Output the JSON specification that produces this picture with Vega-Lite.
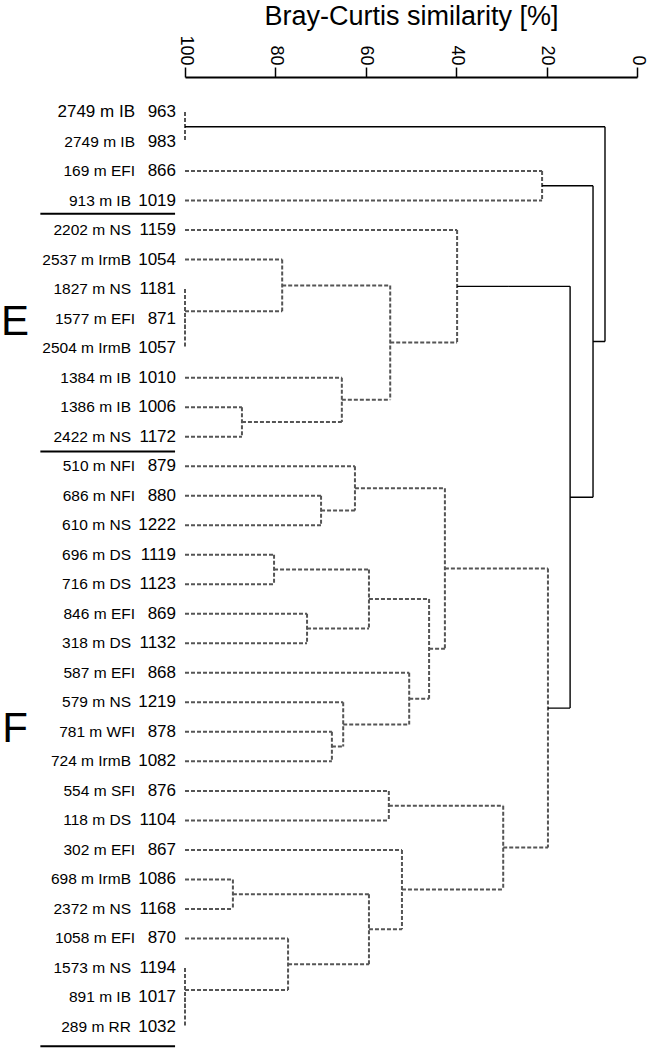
{
  "$schema": "https://vega.github.io/schema/vega-lite/v6.json",
  "autosize": {"type": "none"},
  "padding": {"left": 185, "top": 77, "right": 13, "bottom": 0},
  "width": 452,
  "height": 972,
  "background": "white",
  "config": {"view": {"stroke": null}, "font": "Liberation Sans"},
  "datasets": {
    "segments": [
      {"s1": 100, "s2": 100, "p1": 1, "p2": 2, "simprof": "n.s."},
      {"s1": 100, "s2": 21.0, "p1": 3, "p2": 3, "simprof": "n.s."},
      {"s1": 100, "s2": 21.0, "p1": 4, "p2": 4, "simprof": "n.s."},
      {"s1": 21.0, "s2": 21.0, "p1": 3, "p2": 4, "simprof": "n.s."},
      {"s1": 100, "s2": 100, "p1": 8, "p2": 9, "simprof": "n.s."},
      {"s1": 100, "s2": 100, "p1": 7, "p2": 8.5, "simprof": "n.s."},
      {"s1": 100, "s2": 78.5, "p1": 6, "p2": 6, "simprof": "n.s."},
      {"s1": 100, "s2": 78.5, "p1": 7.75, "p2": 7.75, "simprof": "n.s."},
      {"s1": 78.5, "s2": 78.5, "p1": 6, "p2": 7.75, "simprof": "n.s."},
      {"s1": 100, "s2": 87.4, "p1": 11, "p2": 11, "simprof": "n.s."},
      {"s1": 100, "s2": 87.4, "p1": 12, "p2": 12, "simprof": "n.s."},
      {"s1": 87.4, "s2": 87.4, "p1": 11, "p2": 12, "simprof": "n.s."},
      {"s1": 100, "s2": 65.3, "p1": 10, "p2": 10, "simprof": "n.s."},
      {"s1": 87.4, "s2": 65.3, "p1": 11.5, "p2": 11.5, "simprof": "n.s."},
      {"s1": 65.3, "s2": 65.3, "p1": 10, "p2": 11.5, "simprof": "n.s."},
      {"s1": 78.5, "s2": 54.6, "p1": 6.875, "p2": 6.875, "simprof": "n.s."},
      {"s1": 65.3, "s2": 54.6, "p1": 10.75, "p2": 10.75, "simprof": "n.s."},
      {"s1": 54.6, "s2": 54.6, "p1": 6.875, "p2": 10.75, "simprof": "n.s."},
      {"s1": 100, "s2": 39.8, "p1": 5, "p2": 5, "simprof": "n.s."},
      {"s1": 54.6, "s2": 39.8, "p1": 8.8125, "p2": 8.8125, "simprof": "n.s."},
      {"s1": 39.8, "s2": 39.8, "p1": 5, "p2": 8.8125, "simprof": "n.s."},
      {"s1": 100, "s2": 69.9, "p1": 14, "p2": 14, "simprof": "n.s."},
      {"s1": 100, "s2": 69.9, "p1": 15, "p2": 15, "simprof": "n.s."},
      {"s1": 69.9, "s2": 69.9, "p1": 14, "p2": 15, "simprof": "n.s."},
      {"s1": 100, "s2": 62.4, "p1": 13, "p2": 13, "simprof": "n.s."},
      {"s1": 69.9, "s2": 62.4, "p1": 14.5, "p2": 14.5, "simprof": "n.s."},
      {"s1": 62.4, "s2": 62.4, "p1": 13, "p2": 14.5, "simprof": "n.s."},
      {"s1": 100, "s2": 80.3, "p1": 16, "p2": 16, "simprof": "n.s."},
      {"s1": 100, "s2": 80.3, "p1": 17, "p2": 17, "simprof": "n.s."},
      {"s1": 80.3, "s2": 80.3, "p1": 16, "p2": 17, "simprof": "n.s."},
      {"s1": 100, "s2": 73.0, "p1": 18, "p2": 18, "simprof": "n.s."},
      {"s1": 100, "s2": 73.0, "p1": 19, "p2": 19, "simprof": "n.s."},
      {"s1": 73.0, "s2": 73.0, "p1": 18, "p2": 19, "simprof": "n.s."},
      {"s1": 80.3, "s2": 59.3, "p1": 16.5, "p2": 16.5, "simprof": "n.s."},
      {"s1": 73.0, "s2": 59.3, "p1": 18.5, "p2": 18.5, "simprof": "n.s."},
      {"s1": 59.3, "s2": 59.3, "p1": 16.5, "p2": 18.5, "simprof": "n.s."},
      {"s1": 100, "s2": 67.5, "p1": 22, "p2": 22, "simprof": "n.s."},
      {"s1": 100, "s2": 67.5, "p1": 23, "p2": 23, "simprof": "n.s."},
      {"s1": 67.5, "s2": 67.5, "p1": 22, "p2": 23, "simprof": "n.s."},
      {"s1": 100, "s2": 65.0, "p1": 21, "p2": 21, "simprof": "n.s."},
      {"s1": 67.5, "s2": 65.0, "p1": 22.5, "p2": 22.5, "simprof": "n.s."},
      {"s1": 65.0, "s2": 65.0, "p1": 21, "p2": 22.5, "simprof": "n.s."},
      {"s1": 100, "s2": 50.4, "p1": 20, "p2": 20, "simprof": "n.s."},
      {"s1": 65.0, "s2": 50.4, "p1": 21.75, "p2": 21.75, "simprof": "n.s."},
      {"s1": 50.4, "s2": 50.4, "p1": 20, "p2": 21.75, "simprof": "n.s."},
      {"s1": 59.3, "s2": 46.0, "p1": 17.5, "p2": 17.5, "simprof": "n.s."},
      {"s1": 50.4, "s2": 46.0, "p1": 20.875, "p2": 20.875, "simprof": "n.s."},
      {"s1": 46.0, "s2": 46.0, "p1": 17.5, "p2": 20.875, "simprof": "n.s."},
      {"s1": 62.4, "s2": 42.5, "p1": 13.75, "p2": 13.75, "simprof": "n.s."},
      {"s1": 46.0, "s2": 42.5, "p1": 19.1875, "p2": 19.1875, "simprof": "n.s."},
      {"s1": 42.5, "s2": 42.5, "p1": 13.75, "p2": 19.1875, "simprof": "n.s."},
      {"s1": 100, "s2": 54.9, "p1": 24, "p2": 24, "simprof": "n.s."},
      {"s1": 100, "s2": 54.9, "p1": 25, "p2": 25, "simprof": "n.s."},
      {"s1": 54.9, "s2": 54.9, "p1": 24, "p2": 25, "simprof": "n.s."},
      {"s1": 100, "s2": 89.4, "p1": 27, "p2": 27, "simprof": "n.s."},
      {"s1": 100, "s2": 89.4, "p1": 28, "p2": 28, "simprof": "n.s."},
      {"s1": 89.4, "s2": 89.4, "p1": 27, "p2": 28, "simprof": "n.s."},
      {"s1": 100, "s2": 100, "p1": 31, "p2": 32, "simprof": "n.s."},
      {"s1": 100, "s2": 100, "p1": 30, "p2": 31.5, "simprof": "n.s."},
      {"s1": 100, "s2": 77.2, "p1": 29, "p2": 29, "simprof": "n.s."},
      {"s1": 100, "s2": 77.2, "p1": 30.75, "p2": 30.75, "simprof": "n.s."},
      {"s1": 77.2, "s2": 77.2, "p1": 29, "p2": 30.75, "simprof": "n.s."},
      {"s1": 89.4, "s2": 59.3, "p1": 27.5, "p2": 27.5, "simprof": "n.s."},
      {"s1": 77.2, "s2": 59.3, "p1": 29.875, "p2": 29.875, "simprof": "n.s."},
      {"s1": 59.3, "s2": 59.3, "p1": 27.5, "p2": 29.875, "simprof": "n.s."},
      {"s1": 100, "s2": 52.0, "p1": 26, "p2": 26, "simprof": "n.s."},
      {"s1": 59.3, "s2": 52.0, "p1": 28.6875, "p2": 28.6875, "simprof": "n.s."},
      {"s1": 52.0, "s2": 52.0, "p1": 26, "p2": 28.6875, "simprof": "n.s."},
      {"s1": 54.9, "s2": 29.6, "p1": 24.5, "p2": 24.5, "simprof": "n.s."},
      {"s1": 52.0, "s2": 29.6, "p1": 27.34375, "p2": 27.34375, "simprof": "n.s."},
      {"s1": 29.6, "s2": 29.6, "p1": 24.5, "p2": 27.34375, "simprof": "n.s."},
      {"s1": 42.5, "s2": 19.7, "p1": 16.46875, "p2": 16.46875, "simprof": "n.s."},
      {"s1": 29.6, "s2": 19.7, "p1": 25.921875, "p2": 25.921875, "simprof": "n.s."},
      {"s1": 19.7, "s2": 19.7, "p1": 16.46875, "p2": 25.921875, "simprof": "n.s."},
      {"s1": 39.8, "s2": 14.8, "p1": 6.90625, "p2": 6.90625, "simprof": "sig."},
      {"s1": 19.7, "s2": 14.8, "p1": 21.1953, "p2": 21.1953, "simprof": "sig."},
      {"s1": 14.8, "s2": 14.8, "p1": 6.90625, "p2": 21.1953, "simprof": "sig."},
      {"s1": 21.0, "s2": 9.73, "p1": 3.5, "p2": 3.5, "simprof": "sig."},
      {"s1": 14.8, "s2": 9.73, "p1": 14.0508, "p2": 14.0508, "simprof": "sig."},
      {"s1": 9.73, "s2": 9.73, "p1": 3.5, "p2": 14.0508, "simprof": "sig."},
      {"s1": 100, "s2": 7.08, "p1": 1.5, "p2": 1.5, "simprof": "sig."},
      {"s1": 9.73, "s2": 7.08, "p1": 8.7754, "p2": 8.7754, "simprof": "sig."},
      {"s1": 7.08, "s2": 7.08, "p1": 1.5, "p2": 8.7754, "simprof": "sig."}
    ],
    "leaves": [
      {"leaf": 1, "site": "2749 m IB", "sample": "963"},
      {"leaf": 2, "site": "2749 m IB", "sample": "983"},
      {"leaf": 3, "site": "169 m EFI", "sample": "866"},
      {"leaf": 4, "site": "913 m IB", "sample": "1019"},
      {"leaf": 5, "site": "2202 m NS", "sample": "1159"},
      {"leaf": 6, "site": "2537 m IrmB", "sample": "1054"},
      {"leaf": 7, "site": "1827 m NS", "sample": "1181"},
      {"leaf": 8, "site": "1577 m EFI", "sample": "871"},
      {"leaf": 9, "site": "2504 m IrmB", "sample": "1057"},
      {"leaf": 10, "site": "1384 m IB", "sample": "1010"},
      {"leaf": 11, "site": "1386 m IB", "sample": "1006"},
      {"leaf": 12, "site": "2422 m NS", "sample": "1172"},
      {"leaf": 13, "site": "510 m NFI", "sample": "879"},
      {"leaf": 14, "site": "686 m NFI", "sample": "880"},
      {"leaf": 15, "site": "610 m NS", "sample": "1222"},
      {"leaf": 16, "site": "696 m DS", "sample": "1119"},
      {"leaf": 17, "site": "716 m DS", "sample": "1123"},
      {"leaf": 18, "site": "846 m EFI", "sample": "869"},
      {"leaf": 19, "site": "318 m DS", "sample": "1132"},
      {"leaf": 20, "site": "587 m EFI", "sample": "868"},
      {"leaf": 21, "site": "579 m NS", "sample": "1219"},
      {"leaf": 22, "site": "781 m WFI", "sample": "878"},
      {"leaf": 23, "site": "724 m IrmB", "sample": "1082"},
      {"leaf": 24, "site": "554 m SFI", "sample": "876"},
      {"leaf": 25, "site": "118 m DS", "sample": "1104"},
      {"leaf": 26, "site": "302 m EFI", "sample": "867"},
      {"leaf": 27, "site": "698 m IrmB", "sample": "1086"},
      {"leaf": 28, "site": "2372 m NS", "sample": "1168"},
      {"leaf": 29, "site": "1058 m EFI", "sample": "870"},
      {"leaf": 30, "site": "1573 m NS", "sample": "1194"},
      {"leaf": 31, "site": "891 m IB", "sample": "1017"},
      {"leaf": 32, "site": "289 m RR", "sample": "1032"}
    ],
    "separators": [
      {"between": 4.45},
      {"between": 12.5},
      {"between": 32.65}
    ]
  },
  "layer": [
    {
      "data": {"name": "segments"},
      "mark": {"type": "rule"},
      "encoding": {
        "x": {
          "field": "s1",
          "type": "quantitative",
          "scale": {"domain": [0, 100], "reverse": true, "nice": false, "zero": false},
          "axis": {
            "orient": "top",
            "values": [0, 20, 40, 60, 80, 100],
            "format": "d",
            "title": "Bray-Curtis similarity [%]",
            "titleFont": "Liberation Sans",
            "titleFontSize": 27,
            "titleFontWeight": "normal",
            "titleColor": "#000000",
            "titlePadding": 4,
            "labelAngle": 90,
            "labelAlign": "right",
            "labelBaseline": "middle",
            "labelFont": "Liberation Sans",
            "labelFontSize": 18,
            "labelColor": "#000000",
            "labelPadding": 2,
            "labelFlush": false,
            "labelOverlap": false,
            "tickSize": 10,
            "tickColor": "#000000",
            "tickWidth": 1.5,
            "domainColor": "#000000",
            "domainWidth": 2,
            "grid": false
          }
        },
        "x2": {"field": "s2"},
        "y": {
          "field": "p1",
          "type": "quantitative",
          "scale": {"domain": [-0.186, 32.745], "reverse": true, "nice": false, "zero": false},
          "axis": null
        },
        "y2": {"field": "p2"},
        "color": {"condition": {"test": "datum.simprof === 'sig.'", "value": "#000000"}, "value": "#555555"},
        "strokeWidth": {"condition": {"test": "datum.simprof === 'sig.'", "value": 1.4}, "value": 2},
        "strokeDash": {"condition": {"test": "datum.simprof === 'sig.'", "value": [1, 0]}, "value": [4, 2]}
      }
    },
    {
      "data": {"name": "separators"},
      "mark": {"type": "rule", "color": "#000000", "strokeWidth": 2},
      "encoding": {
        "x": {"datum": 132},
        "x2": {"datum": 102.2},
        "y": {"field": "between", "type": "quantitative"}
      }
    },
    {
      "data": {"name": "leaves"},
      "mark": {"type": "text", "align": "right", "baseline": "middle", "dx": -9, "fontSize": 17, "font": "Liberation Sans", "color": "#000000"},
      "encoding": {
        "x": {"datum": 100},
        "y": {"field": "leaf", "type": "quantitative"},
        "text": {"field": "sample"}
      }
    },
    {
      "data": {"name": "leaves"},
      "transform": [{"filter": "length(datum.sample) == 3"}],
      "mark": {"type": "text", "align": "right", "baseline": "middle", "dx": -50, "font": "Liberation Sans", "color": "#000000"},
      "encoding": {
        "x": {"datum": 100},
        "y": {"field": "leaf", "type": "quantitative"},
        "text": {"field": "site"},
        "size": {"condition": {"test": "datum.sample === '963'", "value": 17}, "value": 15.5}
      }
    },
    {
      "data": {"name": "leaves"},
      "transform": [{"filter": "length(datum.sample) == 4"}],
      "mark": {"type": "text", "align": "right", "baseline": "middle", "dx": -54, "fontSize": 15.5, "font": "Liberation Sans", "color": "#000000"},
      "encoding": {
        "x": {"datum": 100},
        "y": {"field": "leaf", "type": "quantitative"},
        "text": {"field": "site"}
      }
    },
    {
      "data": {"values": [{"group": "E"}]},
      "mark": {"type": "text", "align": "center", "baseline": "middle", "fontSize": 42, "font": "Liberation Sans", "color": "#000000"},
      "encoding": {
        "x": {"datum": 137.6},
        "y": {"datum": 8.11},
        "text": {"field": "group"}
      }
    },
    {
      "data": {"values": [{"group": "F"}]},
      "mark": {"type": "text", "align": "center", "baseline": "middle", "fontSize": 42, "font": "Liberation Sans", "color": "#000000"},
      "encoding": {
        "x": {"datum": 137.6},
        "y": {"datum": 21.9},
        "text": {"field": "group"}
      }
    }
  ]
}
